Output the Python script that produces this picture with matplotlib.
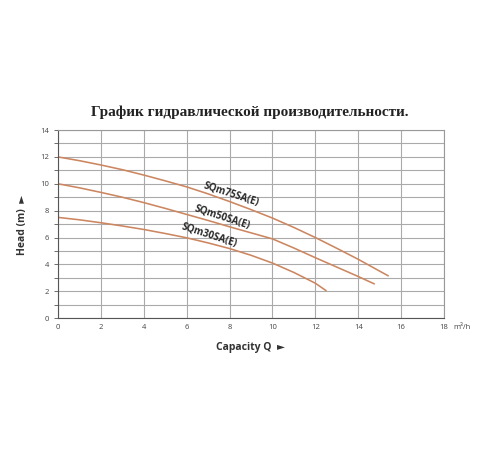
import matplotlib
matplotlib.use("Agg")
import matplotlib.pyplot as plt

title = "График гидравлической производительности."
q75 = [0, 1, 2, 3, 4, 5, 6, 7, 8, 9, 10, 11, 12, 13, 14, 15, 15.4]
h75 = [12.0, 11.72, 11.4, 11.05, 10.65, 10.22, 9.77, 9.25, 8.68, 8.08, 7.45, 6.75, 6.0, 5.2, 4.38, 3.5, 3.15]
q50 = [0, 1, 2, 3, 4, 5, 6, 7, 8, 9, 10, 11, 12, 13, 14, 14.75]
h50 = [10.0, 9.7, 9.36, 9.0, 8.6, 8.17, 7.72, 7.27, 6.8, 6.35, 5.9, 5.22, 4.5, 3.8, 3.1, 2.55]
q30 = [0, 1, 2, 3, 4, 5, 6, 7, 8, 9, 10, 11, 12, 12.5]
h30 = [7.5, 7.32, 7.1, 6.86, 6.6, 6.3, 5.98, 5.6, 5.18, 4.68, 4.1, 3.4, 2.6, 2.05]
labels = ["SQm75SA(E)", "SQm50SA(E)", "SQm30SA(E)"]
label_pos = [(8.1, 9.25), (7.67, 7.53), (7.07, 6.19)]

xticks = list(range(0, 19, 2))
yticks = list(range(0, 15, 2))

fam = ["Open Sans", "DejaVu Sans"]

fig = plt.figure(figsize=(5, 4.5), dpi=100)
ax = fig.add_axes([0.116, 0.293, 0.772, 0.418])

curve_color = "#cc8660"
for q, h in [(q75, h75), (q50, h50), (q30, h30)]:
    ax.plot(q, h, color=curve_color, lw=1.15, solid_capstyle="round",
            solid_joinstyle="round")

for lab, (x, y) in zip(labels, label_pos):
    ax.text(x, y, lab, rotation=-18, ha="center", va="center",
            fontsize=7, fontweight="bold", color="#2a2a2a", family=fam)

ax.set_xlim(0, 18)
ax.set_ylim(0, 14)
ax.set_xticks(xticks)
ax.set_yticks(yticks)
ax.set_yticks(range(0, 15), minor=True)
ax.grid(True, which="major", color="#aaaaaa", lw=0.8)
ax.grid(True, which="minor", axis="y", color="#aaaaaa", lw=0.8)
ax.set_axisbelow(True)
for s in ax.spines.values():
    s.set_color("#999999")
    s.set_linewidth(0.8)
ax.spines["left"].set_color("#555555")
ax.spines["bottom"].set_color("#555555")
ax.tick_params(axis="both", labelsize=5.5, colors="#555555", length=3, width=0.6,
               labelcolor="#444444")
ax.tick_params(axis="y", which="minor", length=3, width=0.6, colors="#555555")
ax.tick_params(axis="x", length=0, pad=4)
for t in ax.get_xticklabels() + ax.get_yticklabels():
    t.set_family(fam)

ax.text(18.45, -0.7, "m³/h", fontsize=5.5, color="#444444", ha="left", va="center",
        family=fam)

fig.text(0.5, 0.751, title, ha="center", va="center", fontsize=11,
         fontweight="bold", family="Liberation Serif", color="#222222")
fig.text(0.5, 0.228, "Capacity Q  ►", ha="center", va="center", fontsize=7.5,
         fontweight="bold", family=fam, color="#333333")
fig.text(0.045, 0.5, "Head (m)  ►", ha="center", va="center", rotation=90,
         fontsize=7.5, fontweight="bold", family=fam, color="#333333")

fig.savefig("out.png", dpi=100, facecolor="white")
